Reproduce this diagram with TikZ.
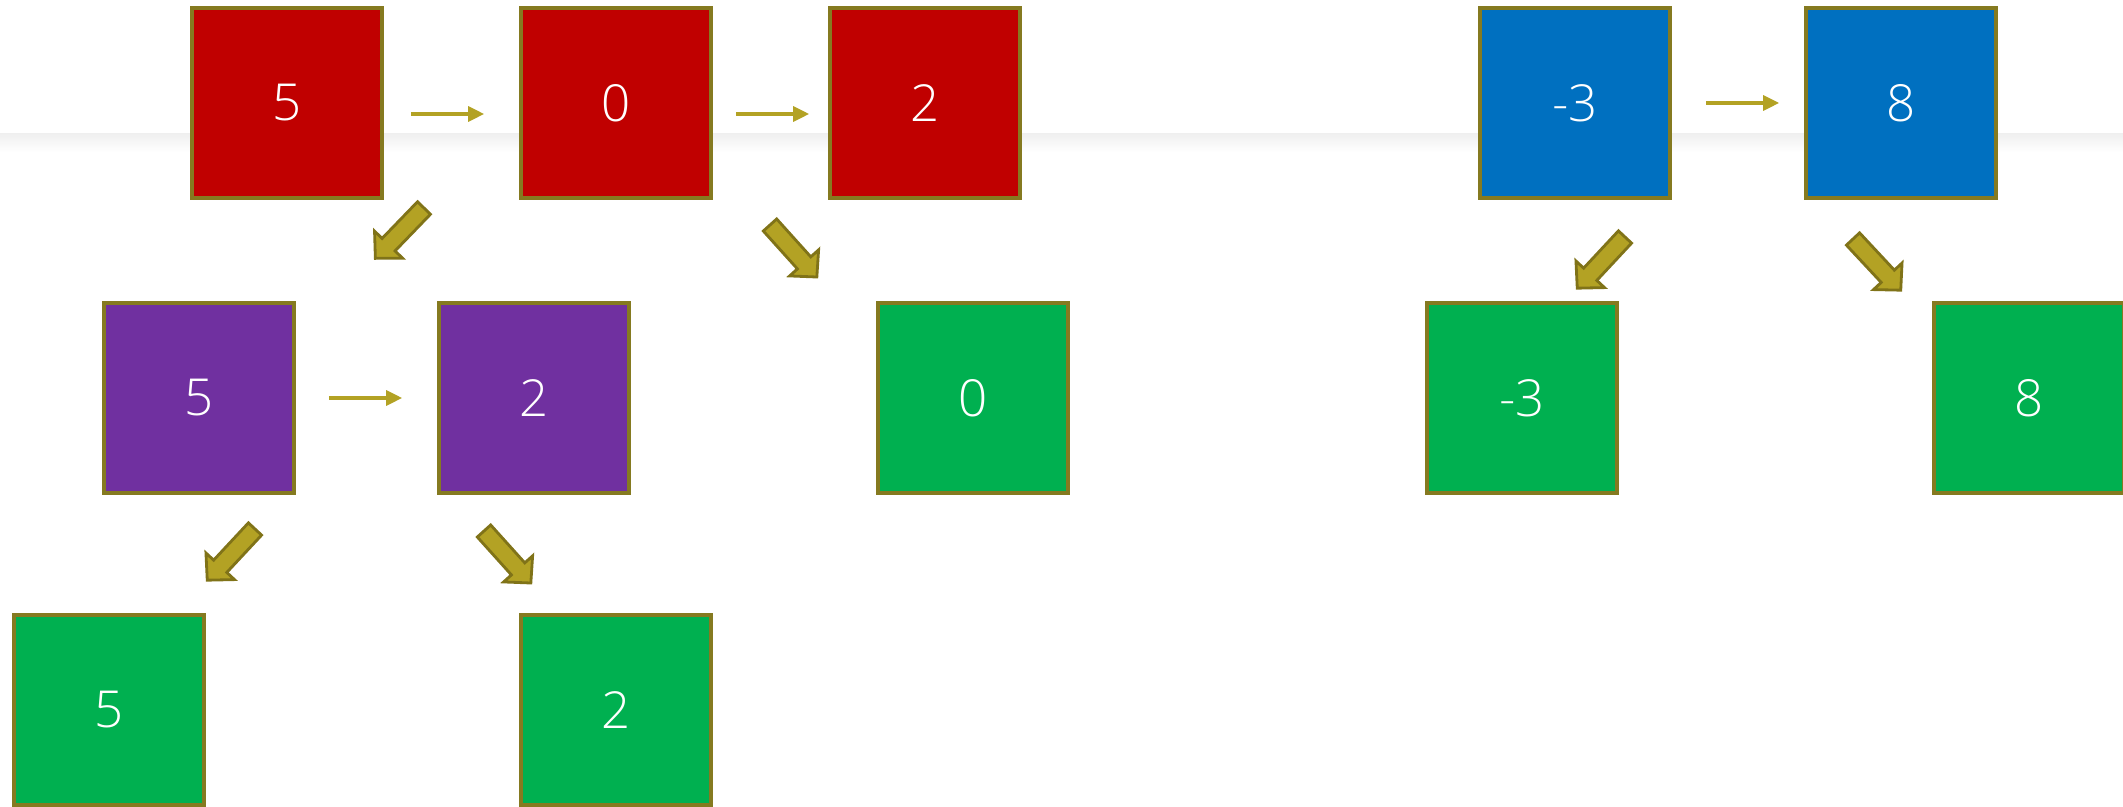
\documentclass[tikz,border=0pt]{standalone}
\usepackage{fontspec}
\setmainfont{Open Sans}[UprightFont={* Light}]
\usetikzlibrary{arrows.meta}

\definecolor{boxred}{HTML}{C00000}
\definecolor{boxblue}{HTML}{0070C0}
\definecolor{boxpurple}{HTML}{7030A0}
\definecolor{boxgreen}{HTML}{00B050}
\definecolor{edge}{HTML}{857A20}
\definecolor{olive}{HTML}{B3A224}
\definecolor{oliveline}{HTML}{807318}

\begin{document}
\begin{tikzpicture}[
  x=0.01cm,
  y=-0.01cm,
  font=\fontsize{14.5}{16}\selectfont,
  cell/.style={draw=edge, line width=1pt, minimum size=1.9cm, inner sep=0pt, text=white},
  link/.style={draw=olive, line width=0.9pt, -{Triangle[length=0.16cm,width=0.15cm]}},
  fatarrow/.pic={\draw[fill=olive, draw=oliveline, line width=0.8pt, line join=miter]
    (0,-9) -- (51,-9) -- (51,-19.5) -- (70,0) -- (51,19.5) -- (51,9) -- (0,9) -- cycle;}
]
  \useasboundingbox (0,0) rectangle (2123,807);

  % faint band behind the top row
  \shade[top color=black!6, bottom color=white] (0,134) rectangle (2123,152);

  % split: first level
  \node[cell, fill=boxred] (r5) at (287,103) {5};
  \node[cell, fill=boxred] (r0) at (616,103) {0};
  \node[cell, fill=boxred] (r2) at (925,103) {2};

  \node[cell, fill=boxblue] (b3) at (1575,103) {-3};
  \node[cell, fill=boxblue] (b8) at (1901,103) {8};

  % second level
  \node[cell, fill=boxpurple] (p5) at (199,398) {5};
  \node[cell, fill=boxpurple] (p2) at (534,398) {2};
  \node[cell, fill=boxgreen] (g0) at (973,398) {0};
  \node[cell, fill=boxgreen] (g3) at (1522,398) {-3};
  \node[cell, fill=boxgreen] (g8) at (2029,398) {8};

  % third level
  \node[cell, fill=boxgreen] (g5) at (109,710) {5};
  \node[cell, fill=boxgreen] (g2) at (616,710) {2};

  \draw[link, shorten <=0.27cm, shorten >=0.35cm] ([yshift=-0.11cm]r5.east) -- ([yshift=-0.11cm]r0.west);
  \draw[link, shorten <=0.23cm, shorten >=0.19cm] ([yshift=-0.11cm]r0.east) -- ([yshift=-0.11cm]r2.west);
  \draw[link, shorten <=0.34cm, shorten >=0.25cm] (b3.east) -- (b8.west);
  \draw[link, shorten <=0.33cm, shorten >=0.35cm] (p5.east) -- (p2.west);

  \pic[rotate=226] at (424,208) {fatarrow};
  \pic[rotate=-48] at (770,225) {fatarrow};
  \pic[rotate=227] at (255,529) {fatarrow};
  \pic[rotate=-48] at (484,531) {fatarrow};
  \pic[rotate=227] at (1625,237) {fatarrow};
  \pic[rotate=-47] at (1853,239) {fatarrow};
\end{tikzpicture}
\end{document}
